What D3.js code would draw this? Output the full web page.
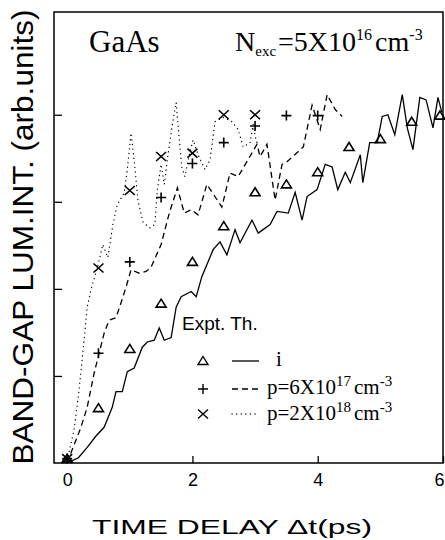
<!DOCTYPE html>
<html>
<head>
<meta charset="utf-8">
<script src="https://cdn.jsdelivr.net/npm/d3@7"></script>
<style>
    body { margin: 0; background: #fff; }
    svg { display: block; }
</style>
</head>
<body>
<svg></svg>
<script>
// Experimental points (time delay in ps, intensity in arb. units)
const exptTimesI = [0, 0.5, 1, 1.5, 2, 2.5, 3, 3.5, 4, 4.5, 5, 5.5, 5.95];
const exptValuesI = [0.05, 0.63, 1.31, 1.83, 2.31, 2.72, 3.11, 3.20, 3.34, 3.63, 3.72, 3.92, 3.99];
const exptTimesP1 = [0, 0.5, 1, 1.5, 2, 2.5, 3, 3.5, 4];
const exptValuesP1 = [0.05, 1.26, 2.31, 3.05, 3.44, 3.68, 3.87, 3.99, 3.99];
const exptTimesP2 = [0, 0.5, 1, 1.5, 2, 2.5, 3];
const exptValuesP2 = [0.05, 2.24, 3.13, 3.52, 3.56, 4.0, 4.0];

// Theory curves, [t, value]
const theoryI = [
    [0, 0], [0.03, 0.01], [0.18, 0.06], [0.32, 0.18], [0.46, 0.31], [0.59, 0.41], [0.72, 0.64],
    [0.78, 0.82], [0.88, 0.82], [0.96, 1.05], [1.07, 1.09], [1.20, 1.33], [1.28, 1.39], [1.39, 1.41],
    [1.47, 1.55], [1.55, 1.41], [1.66, 1.44], [1.74, 1.79], [1.82, 1.91], [1.98, 1.97], [2.06, 1.91],
    [2.15, 2.14], [2.33, 2.45], [2.44, 2.54], [2.55, 2.39], [2.68, 2.68], [2.76, 2.53], [2.95, 2.79],
    [3.05, 2.64], [3.24, 2.74], [3.35, 2.89], [3.53, 2.87], [3.64, 3.11], [3.75, 2.79], [3.83, 3.06],
    [3.99, 3.14], [4.12, 3.43], [4.23, 3.40], [4.32, 3.14], [4.44, 3.34], [4.52, 3.22], [4.68, 3.54],
    [4.72, 3.22], [4.83, 3.68], [4.95, 3.68], [5.03, 3.98], [5.12, 4.00], [5.23, 3.77], [5.35, 4.23],
    [5.43, 3.85], [5.52, 3.60], [5.63, 4.20], [5.73, 4.17], [5.84, 3.85], [5.92, 4.20], [5.98, 4.03]
];
const theoryP1 = [
    [0, 0], [0.03, 0.06], [0.22, 0.41], [0.32, 0.64], [0.43, 1.03], [0.51, 1.26], [0.59, 1.49],
    [0.67, 1.64], [0.78, 1.67], [0.86, 1.84], [0.94, 2.02], [1.02, 2.22], [1.15, 2.18], [1.26, 2.20],
    [1.34, 2.25], [1.50, 2.51], [1.63, 2.87], [1.76, 3.16], [1.87, 2.87], [1.98, 2.91], [2.09, 2.85],
    [2.23, 3.20], [2.47, 2.94], [2.60, 3.33], [2.73, 3.29], [3.03, 3.66], [3.08, 3.52], [3.19, 3.66],
    [3.32, 3.02], [3.43, 3.43], [3.51, 3.46], [3.77, 3.63], [3.91, 4.11], [4.04, 3.83], [4.15, 4.23],
    [4.28, 4.06], [4.39, 3.98]
];
const theoryP2 = [
    [0, 0.03], [0.11, 0.38], [0.19, 0.84], [0.27, 1.41], [0.32, 1.79], [0.38, 1.99], [0.48, 2.24],
    [0.57, 2.51], [0.65, 2.36], [0.73, 2.74], [0.80, 2.97], [0.91, 3.10], [0.96, 3.37], [1.02, 3.79],
    [1.07, 3.48], [1.13, 3.02], [1.21, 2.77], [1.32, 2.70], [1.40, 2.74], [1.44, 3.14], [1.50, 3.43],
    [1.55, 3.20], [1.61, 3.54], [1.68, 3.89], [1.74, 4.14], [1.79, 3.71], [1.83, 3.40], [1.88, 3.29],
    [1.95, 3.54], [2.01, 3.71], [2.09, 3.54], [2.20, 3.37], [2.28, 3.48], [2.36, 3.92], [2.49, 3.97],
    [2.63, 3.92], [2.73, 3.83], [2.81, 3.63], [2.92, 3.68], [2.97, 3.89], [3.02, 3.69], [3.06, 3.66]
];

const xTickValues = [0, 2, 4, 6];
const yTickValues = [1, 2, 3, 4];

const width = 445;
const height = 540;
const frame = {left: 54, right: 443, top: 12, bottom: 463};
const serif = "'Liberation Serif', 'Times New Roman', serif";
const sans = "'Liberation Sans', Arial, sans-serif";

const svg = d3.select("svg")
    .attr("width", width)
    .attr("height", height);

const x = d3.scaleLinear().domain([-0.21, 6]).range([frame.left, frame.right]);
const y = d3.scaleLinear().domain([0, 5.18]).range([frame.bottom, frame.top]);

svg.append("defs").append("clipPath").attr("id", "plot-clip")
    .append("rect")
    .attr("x", frame.left).attr("y", frame.top)
    .attr("width", frame.right - frame.left).attr("height", frame.bottom - frame.top);

// Axes: ticks point inward, frame drawn separately
svg.append("g")
    .attr("transform", `translate(0,${frame.bottom})`)
    .call(d3.axisBottom(x).tickValues(xTickValues).tickFormat(d3.format("d"))
        .tickSizeInner(-7).tickSizeOuter(0).tickPadding(10))
    .call(g => g.select(".domain").remove())
    .call(g => g.selectAll("line").attr("stroke-width", 1.3))
    .call(g => g.selectAll("text")
        .attr("font-family", sans)
        .attr("font-size", 18)
        .attr("fill", "#000"))
    // last label sits on the window edge, keep it inside
    .call(g => g.selectAll("text").filter(d => d === 6).attr("text-anchor", "end").attr("dx", 1));

svg.append("g")
    .attr("transform", `translate(${frame.left},0)`)
    .call(d3.axisLeft(y).tickValues(yTickValues).tickSizeInner(-8).tickSizeOuter(0).tickFormat(""))
    .call(g => g.select(".domain").remove())
    .call(g => g.selectAll("line").attr("stroke-width", 1.3));

svg.append("rect")
    .attr("x", frame.left).attr("y", frame.top)
    .attr("width", frame.right - frame.left).attr("height", frame.bottom - frame.top)
    .attr("fill", "none")
    .attr("stroke", "#000")
    .attr("stroke-width", 1.5);

// Theory lines
const line = d3.line().x(d => x(d[0])).y(d => y(d[1]));
const plot = svg.append("g").attr("clip-path", "url(#plot-clip)");

function drawTheory(data, dash) {
    plot.append("path")
        .datum(data)
        .attr("d", line)
        .attr("fill", "none")
        .attr("stroke", "#000")
        .attr("stroke-width", 1.3)
        .attr("stroke-linecap", dash === "dot" ? "round" : "butt")
        .attr("stroke-dasharray", dash === "dash" ? "6,4" : dash === "dot" ? "0.1,4.5" : null);
}
drawTheory(theoryI, null);
drawTheory(theoryP1, "dash");
drawTheory(theoryP2, "dot");

// Marker shapes
const markerPaths = {
    triangle: "M0,-4.5L5,3.5L-5,3.5Z",
    plus: "M-5,0H5M0,-5V5",
    times: "M-5,-4.5L5,4.5M-5,4.5L5,-4.5"
};

function drawMarkers(times, values, shape) {
    svg.append("g")
        .selectAll("path")
        .data(times.map((t, i) => [t, values[i]]))
        .join("path")
        .attr("transform", d => `translate(${x(d[0])},${y(d[1])})`)
        .attr("d", markerPaths[shape])
        .attr("fill", "none")
        .attr("stroke", "#000")
        .attr("stroke-width", 1.6);
}
drawMarkers(exptTimesI, exptValuesI, "triangle");
drawMarkers(exptTimesP1, exptValuesP1, "plus");
drawMarkers(exptTimesP2, exptValuesP2, "times");

// Axis titles
svg.append("text")
    .attr("x", 232).attr("y", 534)
    .attr("text-anchor", "middle")
    .attr("font-family", sans)
    .attr("font-size", 20)
    .attr("textLength", 280)
    .attr("lengthAdjust", "spacingAndGlyphs")
    .text("TIME DELAY \u0394t(ps)");

svg.append("text")
    .attr("transform", "translate(33,237) rotate(-90)")
    .attr("text-anchor", "middle")
    .attr("font-family", sans)
    .attr("font-size", 29)
    .attr("textLength", 455)
    .attr("lengthAdjust", "spacingAndGlyphs")
    .text("BAND-GAP LUM.INT.  (arb.units)");

// Titles inside the frame
svg.append("text")
    .attr("x", 89).attr("y", 52)
    .attr("font-family", serif)
    .attr("font-size", 31)
    .text("GaAs");

function richText(xPos, yPos, size, parts) {
    const t = svg.append("text")
        .attr("x", xPos).attr("y", yPos)
        .attr("font-family", serif)
        .attr("font-size", size);
    let shift = 0;
    parts.forEach(function (p) {
        const target = p.shift || 0;
        t.append("tspan")
            .attr("dy", target - shift)
            .attr("dx", p.dx || 0)
            .attr("font-size", p.size || size)
            .text(p.text);
        shift = target;
    });
}

richText(235, 51, 28, [
    {text: "N"},
    {text: "exc", size: 15, shift: 5},
    {text: "=5X10", dx: 2},
    {text: "16", size: 16, shift: -11},
    {text: "cm", dx: 3},
    {text: "-3", size: 16, shift: -11}
]);

// Legend
svg.append("text")
    .attr("x", 182).attr("y", 330)
    .attr("font-family", sans)
    .attr("font-size", 19)
    .text("Expt. Th.");

const legendRows = [
    {shape: "triangle", dash: null, y: 361},
    {shape: "plus", dash: "6,4", y: 389},
    {shape: "times", dash: "0.1,4.5", y: 414}
];
legendRows.forEach(function (r) {
    svg.append("path")
        .attr("transform", `translate(203,${r.y})`)
        .attr("d", markerPaths[r.shape])
        .attr("fill", "none")
        .attr("stroke", "#000")
        .attr("stroke-width", 1.4);
    svg.append("line")
        .attr("x1", 232).attr("x2", 259)
        .attr("y1", r.y).attr("y2", r.y)
        .attr("stroke", "#000")
        .attr("stroke-width", 1.3)
        .attr("stroke-linecap", r.dash === "0.1,4.5" ? "round" : "butt")
        .attr("stroke-dasharray", r.dash);
});

richText(276, 366, 21, [{text: "i"}]);
richText(267, 394, 21, [
    {text: "p=6X10"},
    {text: "17", size: 15, shift: -8},
    {text: "cm", dx: 3},
    {text: "-3", size: 15, shift: -8}
]);
richText(267, 420, 21, [
    {text: "p=2X10"},
    {text: "18", size: 15, shift: -8},
    {text: "cm", dx: 3},
    {text: "-3", size: 15, shift: -8}
]);
</script>
</body>
</html>
